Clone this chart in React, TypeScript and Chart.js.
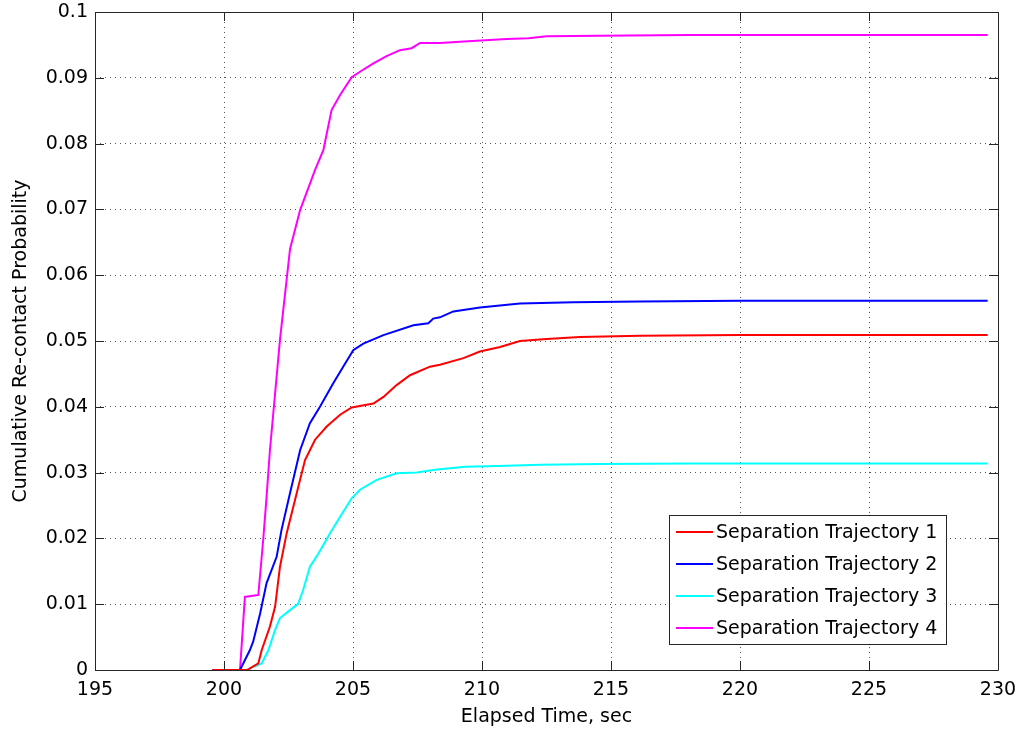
import React, { useEffect, useRef } from "react";
import { Chart, registerables } from "chart.js";

Chart.register(...registerables);

const seriesNames = [
  "Separation Trajectory 1",
  "Separation Trajectory 2",
  "Separation Trajectory 3",
  "Separation Trajectory 4",
];
const seriesColors = ["#ff0000", "#0000ff", "#00ffff", "#ff00ff"];

const t1 = [199.55, 200.9, 201.33, 201.46, 201.78, 201.98, 202.17, 202.43, 202.82, 203.14, 203.53, 203.98, 204.5, 204.95, 205.79, 206.18, 206.69, 207.21, 207.98, 208.37, 209.28, 209.92, 210.7, 211.47, 212.5, 213.8, 216.12, 220, 229.6];
const p1 = [0, 0, 0.001, 0.003, 0.0066, 0.0096, 0.0157, 0.0208, 0.0269, 0.0319, 0.035, 0.037, 0.0388, 0.0399, 0.0405, 0.0415, 0.0433, 0.0448, 0.0461, 0.0464, 0.0474, 0.0484, 0.0491, 0.05, 0.0503, 0.0506, 0.0508, 0.0509, 0.0509];

const t2 = [199.55, 200.62, 201.0, 201.13, 201.4, 201.65, 202.04, 202.23, 202.56, 202.95, 203.33, 203.72, 204.24, 204.62, 205.01, 205.4, 206.18, 207.34, 207.92, 208.11, 208.37, 208.89, 209.92, 211.47, 213.54, 216.12, 220, 229.6];
const p2 = [0, 0, 0.003, 0.0043, 0.0086, 0.0132, 0.0172, 0.0213, 0.0269, 0.0334, 0.0375, 0.04, 0.0436, 0.0461, 0.0486, 0.0496, 0.0509, 0.0524, 0.0527, 0.0534, 0.0536, 0.0545, 0.0551, 0.0557, 0.0559, 0.056, 0.0561, 0.0561];

const t3 = [199.55, 200.88, 201.14, 201.46, 201.72, 201.98, 202.17, 202.56, 202.88, 203.07, 203.33, 203.66, 204.11, 204.5, 204.95, 205.27, 205.92, 206.69, 207.47, 208.11, 208.37, 209.34, 210.63, 212.25, 214.57, 218.06, 229.6];
const p3 = [0, 0, 0.0005, 0.001, 0.003, 0.0061, 0.0079, 0.0091, 0.0101, 0.0122, 0.0157, 0.0177, 0.0208, 0.0233, 0.0261, 0.0274, 0.0289, 0.0299, 0.03, 0.0304, 0.0305, 0.0309, 0.031, 0.0312, 0.0313, 0.0314, 0.0314];

const t4 = [199.55, 200.62, 200.81, 201.33, 201.52, 201.65, 201.78, 202.17, 202.56, 202.95, 203.53, 203.85, 204.17, 204.5, 204.95, 205.3, 205.79, 206.3, 206.82, 207.27, 207.6, 208.37, 209.3, 210.12, 210.96, 211.8, 212.5, 214.57, 218.06, 222, 229.6];
const p4 = [0, 0, 0.0111, 0.0114, 0.0198, 0.0263, 0.0334, 0.0502, 0.064, 0.0699, 0.076, 0.079, 0.0851, 0.0874, 0.0901, 0.091, 0.0922, 0.0933, 0.0942, 0.0945, 0.0953, 0.0953, 0.0955, 0.0957, 0.0959, 0.096, 0.0963, 0.0964, 0.0965, 0.0965, 0.0965];

const xTickLabels = ["195", "200", "205", "210", "215", "220", "225", "230"];
const yTickLabels = ["0", "0.01", "0.02", "0.03", "0.04", "0.05", "0.06", "0.07", "0.08", "0.09", "0.1"];

const FONT = "'DejaVu Sans', sans-serif";
const FONT_SIZE = 19;

const framePlugin = {
  id: "matlabFrame",
  afterDraw(chart: any) {
    const { ctx, chartArea: a, scales } = chart;
    const xs = scales.x;
    const ys = scales.y;
    const tl = 9;
    ctx.save();
    ctx.strokeStyle = "#262626";
    ctx.lineWidth = 1;
    ctx.beginPath();
    ctx.rect(Math.round(a.left) + 0.5, Math.round(a.top) + 0.5, Math.round(a.right - a.left), Math.round(a.bottom - a.top));
    ctx.stroke();
    ctx.beginPath();
    xs.ticks.forEach((tk: any) => {
      const px = Math.round(xs.getPixelForValue(tk.value)) + 0.5;
      ctx.moveTo(px, a.bottom);
      ctx.lineTo(px, a.bottom - tl);
      ctx.moveTo(px, a.top);
      ctx.lineTo(px, a.top + tl);
    });
    ys.ticks.forEach((tk: any) => {
      const py = Math.round(ys.getPixelForValue(tk.value)) + 0.5;
      ctx.moveTo(a.left, py);
      ctx.lineTo(a.left + tl, py);
      ctx.moveTo(a.right, py);
      ctx.lineTo(a.right - tl, py);
    });
    ctx.stroke();

    // legend
    ctx.font = `${FONT_SIZE}px ${FONT}`;
    const items = chart.data.datasets;
    let maxW = 0;
    items.forEach((d: any) => {
      maxW = Math.max(maxW, ctx.measureText(d.label).width);
    });
    const rowH = 32;
    const boxW = 47 + maxW + 9;
    const boxH = 17 + rowH * (items.length - 1) + 16;
    const right = a.right - 52;
    const bottom = a.bottom - 26;
    const left = Math.round(right - boxW);
    const top = Math.round(bottom - boxH);
    ctx.fillStyle = "#ffffff";
    ctx.fillRect(left, top, right - left, bottom - top);
    ctx.strokeStyle = "#262626";
    ctx.strokeRect(left + 0.5, top + 0.5, Math.round(right - left), Math.round(bottom - top));
    items.forEach((d: any, i: number) => {
      const cy = top + 17 + i * rowH;
      ctx.strokeStyle = d.borderColor;
      ctx.lineWidth = 2;
      ctx.beginPath();
      ctx.moveTo(left + 7, cy);
      ctx.lineTo(left + 44, cy);
      ctx.stroke();
      ctx.fillStyle = "#000000";
      ctx.textBaseline = "middle";
      ctx.textAlign = "left";
      ctx.fillText(d.label, left + 47, cy + 1);
    });
    ctx.restore();
  },
};

export default function App() {
  const ref = useRef<HTMLCanvasElement | null>(null);
  useEffect(() => {
    if (!ref.current) return;
    const times = [t1, t2, t3, t4];
    const probs = [p1, p2, p3, p4];
    const chart = new Chart(ref.current, {
      type: "line",
      data: {
        datasets: seriesNames.map((name, i) => ({
          label: name,
          data: times[i].map((t, j) => ({ x: t, y: probs[i][j] })),
          borderColor: seriesColors[i],
          backgroundColor: seriesColors[i],
          borderWidth: 2,
          pointRadius: 0,
          tension: 0,
          fill: false,
        })),
      },
      options: {
        animation: false,
        responsive: false,
        devicePixelRatio: 1,
        layout: { padding: { top: 12, right: 23, left: 0, bottom: 0 } },
        plugins: { legend: { display: false }, tooltip: { enabled: false } },
        scales: {
          x: {
            type: "linear",
            min: 195,
            max: 230,
            afterFit: (s: any) => {
              s.height = 64;
              s.paddingLeft = 0;
              s.paddingRight = 0;
            },
            ticks: {
              stepSize: 5,
              padding: 9,
              maxRotation: 0,
              color: "#000",
              font: { family: FONT, size: FONT_SIZE },
              callback: (_v: any, i: number) => xTickLabels[i],
            },
            grid: { color: "#555", lineWidth: 1, drawTicks: false },
            border: { display: false, dash: [1, 4] },
            title: {
              display: true,
              text: "Elapsed Time, sec",
              color: "#000",
              font: { family: FONT, size: FONT_SIZE },
              padding: { top: 0, bottom: 6 },
            },
          },
          y: {
            min: 0,
            max: 0.1,
            afterFit: (s: any) => {
              s.width = 95;
              s.paddingTop = 0;
              s.paddingBottom = 0;
            },
            ticks: {
              stepSize: 0.01,
              padding: 7,
              color: "#000",
              font: { family: FONT, size: FONT_SIZE },
              callback: (_v: any, i: number) => yTickLabels[i],
            },
            grid: { color: "#555", lineWidth: 1, drawTicks: false },
            border: { display: false, dash: [1, 4] },
            title: {
              display: true,
              text: "Cumulative Re-contact Probability",
              color: "#000",
              font: { family: FONT, size: FONT_SIZE },
              padding: { top: 10, bottom: 0 },
            },
          },
        },
      },
      plugins: [framePlugin],
    });
    return () => chart.destroy();
  }, []);
  return (
    <div style={{ position: "absolute", left: 0, top: 0, width: 1021, height: 734, background: "#fff" }}>
      <canvas ref={ref} width={1021} height={734} />
    </div>
  );
}
